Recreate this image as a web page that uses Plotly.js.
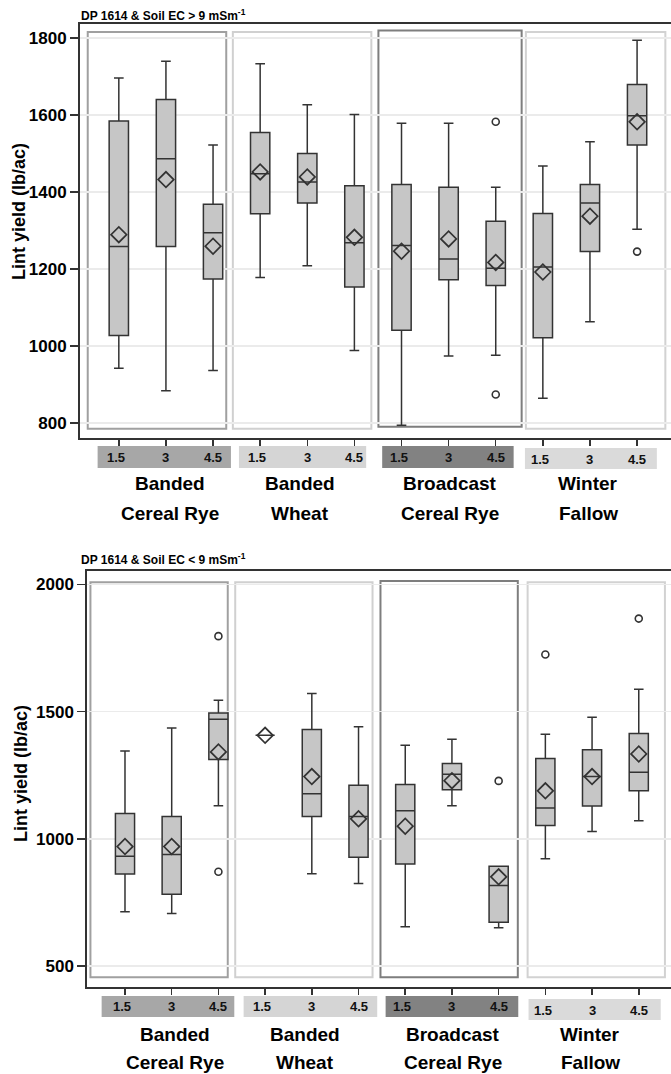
<!DOCTYPE html>
<html><head><meta charset="utf-8">
<script src="https://cdn.plot.ly/plotly-3.0.1.min.js"></script>
<style>html,body{margin:0;padding:0;background:#fff}#chart{width:671px;height:1074px}</style>
</head><body><div id="chart"></div>
<script>
// ---- data ----
const groupLine1 = ["Banded", "Banded", "Broadcast", "Winter"];
const groupLine2 = ["Cereal Rye", "Wheat", "Cereal Rye", "Fallow"];
const rates = ["1.5", "3", "4.5"];
const categories = [];
groupLine1.forEach((g, i) => rates.forEach(r => categories.push(g + " " + groupLine2[i] + " " + r)));

const hiTitle = "DP 1614 &amp; Soil EC &gt; 9 mSm<sup>-1</sup>";
const hiLower  = [942, 884, 936, 1178, 1208, 988, 794, 974, 976, 864, 1063, 1303];
const hiQ1     = [1027, 1258, 1174, 1343, 1371, 1153, 1041, 1172, 1157, 1021, 1245, 1522];
const hiMedian = [1258, 1486, 1294, 1447, 1426, 1268, 1261, 1226, 1202, 1205, 1371, 1598];
const hiQ3     = [1584, 1640, 1368, 1554, 1500, 1416, 1419, 1412, 1324, 1344, 1419, 1679];
const hiUpper  = [1696, 1739, 1522, 1733, 1626, 1601, 1578, 1578, 1412, 1467, 1530, 1794];
const hiMean   = [1289, 1432, 1259, 1452, 1439, 1282, 1246, 1278, 1217, 1192, 1337, 1582];
const hiOutlierX = ["Broadcast Cereal Rye 4.5", "Broadcast Cereal Rye 4.5", "Winter Fallow 4.5"];
const hiOutlierY = [1582, 874, 1245];
const hiTicks = [800, 1000, 1200, 1400, 1600, 1800];

const loTitle = "DP 1614 &amp; Soil EC &lt; 9 mSm<sup>-1</sup>";
const loLower  = [714, 707, 1130, 1407, 863, 825, 655, 1130, 651, 922, 1029, 1071];
const loQ1     = [862, 783, 1312, 1407, 1088, 928, 901, 1193, 672, 1053, 1129, 1189];
const loMedian = [932, 939, 1470, 1407, 1178, 1088, 1111, 1254, 817, 1122, 1245, 1262];
const loQ3     = [1100, 1088, 1495, 1407, 1430, 1211, 1214, 1296, 893, 1316, 1350, 1414];
const loUpper  = [1346, 1436, 1545, 1407, 1572, 1441, 1368, 1392, 893, 1411, 1478, 1588];
const loMean   = [970, 970, 1342, 1407, 1245, 1079, 1050, 1229, 851, 1189, 1245, 1334];
const loOutlierX = ["Banded Cereal Rye 4.5", "Banded Cereal Rye 4.5", "Broadcast Cereal Rye 4.5", "Winter Fallow 1.5", "Winter Fallow 4.5"];
const loOutlierY = [1797, 871, 1228, 1725, 1866];
const loTicks = [500, 1000, 1500, 2000];

const yTitle = "Lint yield (lb/ac)";

// ---- styling ----
const FONT = "Liberation Sans, Arial, Helvetica, sans-serif";
const W = 671, H = 1074, MT = 24, MB = 87, ML = 80, MR = 0;
const PH = H - MT - MB, PW = W - ML - MR;
const py = p => (H - MB - p) / PH;
const px = p => (p - ML) / PW;
const DARK = "#333333";
const frameColors = ["#a0a0a0", "#d0d0d0", "#7e7e7e", "#d2d2d2"];
const barColors = ["#a7a7a7", "#d5d5d5", "#828282", "#dadada"];

function boxTrace(xa, ya, q1, med, q3, lo, up) {
  return {type: "box", xaxis: xa, yaxis: ya, orientation: "v", x: categories,
    q1: q1, median: med, q3: q3, lowerfence: lo, upperfence: up,
    width: 0.41, whiskerwidth: 0.5, boxpoints: false,
    fillcolor: "#c6c6c6", line: {color: DARK, width: 1.5}, hoverinfo: "skip"};
}
function meanTrace(xa, ya, m) {
  return {type: "scatter", mode: "markers", xaxis: xa, yaxis: ya, x: categories, y: m,
    marker: {symbol: "diamond-open", size: 12, color: DARK, line: {width: 1.7, color: DARK}}, hoverinfo: "skip"};
}
function outTrace(xa, ya, xs, ys) {
  return {type: "scatter", mode: "markers", xaxis: xa, yaxis: ya, x: xs, y: ys,
    marker: {symbol: "circle-open", size: 7, color: DARK, line: {width: 1.6, color: DARK}}, hoverinfo: "skip"};
}

const data = [
  boxTrace("x", "y", hiQ1, hiMedian, hiQ3, hiLower, hiUpper),
  meanTrace("x", "y", hiMean),
  outTrace("x", "y", hiOutlierX, hiOutlierY),
  boxTrace("x2", "y2", loQ1, loMedian, loQ3, loLower, loUpper),
  meanTrace("x2", "y2", loMean),
  outTrace("x2", "y2", loOutlierX, loOutlierY)
];

const shapes = [], annotations = [];
function panel(xr, yr, frames, frameY, frameY3, bars, barY, barY4, rateY, rateY4, nameY1, nameY2) {
  frames.forEach((f, g) => {
    const fy = g === 2 ? frameY3 : frameY;
    shapes.push({type: "rect", xref: xr, yref: yr, x0: f[0], x1: f[1], y0: fy[0], y1: fy[1],
      line: {color: frameColors[g], width: 2}, layer: "below"});
  });
  bars.forEach((b, g) => {
    const by = g === 3 ? barY4 : barY;
    shapes.push({type: "rect", xref: xr, yref: "paper", x0: b[0], x1: b[1], y0: py(by[1]), y1: py(by[0]),
      fillcolor: barColors[g], line: {width: 0}});
    rates.forEach((r, k) => {
      annotations.push({xref: xr, yref: "paper", x: g * 3 + k - (k === 0 ? 0.06 : 0), y: py(g === 3 ? rateY4 : rateY),
        text: r, showarrow: false, xanchor: "center", yanchor: "middle",
        font: {family: FONT, size: 13, weight: 700, color: "#111"}});
    });
  });
  const nameX = [1.08, 3.85, 7.03, 9.96];
  groupLine1.forEach((n, g) => {
    annotations.push({xref: xr, yref: "paper", x: nameX[g], y: py(nameY1), text: n, showarrow: false,
      xanchor: "center", yanchor: "middle", font: {family: FONT, size: 19, weight: 700, color: "#000"}});
    annotations.push({xref: xr, yref: "paper", x: nameX[g], y: py(nameY2), text: groupLine2[g], showarrow: false,
      xanchor: "center", yanchor: "middle", font: {family: FONT, size: 19, weight: 700, color: "#000"}});
  });
}

panel("x", "y",
  [[-0.66, 2.28], [2.42, 5.36], [5.51, 8.55], [8.64, 11.6]], [785, 1815], [790, 1819],
  [[-0.45, 2.38], [2.55, 5.25], [5.59, 8.38], [8.62, 11.42]], [446, 468], [448, 469],
  457, 459, 483, 513);
panel("x2", "y2",
  [[-0.74, 2.2], [2.36, 5.3], [5.47, 8.41], [8.62, 11.56]], [456, 2009], [456, 2014],
  [[-0.5, 2.34], [2.54, 5.4], [5.58, 8.42], [8.64, 11.47]], [996, 1017], [999, 1020],
  1007, 1010, 1034, 1062);

annotations.push({xref: "paper", yref: "paper", x: px(79), y: py(15), text: hiTitle, showarrow: false,
  xanchor: "left", yanchor: "middle", font: {family: FONT, size: 12, weight: 700, color: "#000"}});
annotations.push({xref: "paper", yref: "paper", x: px(79), y: py(559), text: loTitle, showarrow: false,
  xanchor: "left", yanchor: "middle", font: {family: FONT, size: 12, weight: 700, color: "#000"}});
annotations.push({xref: "paper", yref: "paper", x: px(19), y: py(212), text: yTitle, textangle: -90, showarrow: false,
  xanchor: "center", yanchor: "middle", font: {family: FONT, size: 18, weight: 700, color: "#000"}});
annotations.push({xref: "paper", yref: "paper", x: px(21), y: py(774), text: yTitle, textangle: -90, showarrow: false,
  xanchor: "center", yanchor: "middle", font: {family: FONT, size: 18, weight: 700, color: "#000"}});

const xCommon = {type: "category", categoryorder: "array", categoryarray: categories,
  showticklabels: false, ticks: "outside", ticklen: 6, tickwidth: 1.5, tickcolor: DARK,
  showline: true, linecolor: DARK, linewidth: 2, mirror: true, showgrid: false, zeroline: false, fixedrange: true};
const yCommon = {tickmode: "array", ticks: "outside", ticklen: 8, tickwidth: 1.5, tickcolor: DARK,
  showline: true, linecolor: DARK, linewidth: 2, showgrid: true, gridcolor: "#ebebeb", gridwidth: 1.5,
  zeroline: false, tickfont: {family: FONT, size: 17, weight: 700, color: "#000"}, fixedrange: true};

const layout = {
  width: W, height: H, margin: {l: ML, r: MR, t: MT, b: MB},
  paper_bgcolor: "#fff", plot_bgcolor: "#fff", showlegend: false,
  font: {family: FONT},
  xaxis: Object.assign({}, xCommon, {domain: [0, 1], anchor: "y", range: [-0.824, 11.72]}),
  yaxis: Object.assign({}, yCommon, {domain: [py(438), 1], anchor: "x", range: [761, 1836], tickvals: hiTicks}),
  xaxis2: Object.assign({}, xCommon, {domain: [px(87.3), 1], anchor: "y2", range: [-0.807, 11.69]}),
  yaxis2: Object.assign({}, yCommon, {domain: [0, py(571)], anchor: "x2", range: [418, 2053], tickvals: loTicks}),
  shapes: shapes, annotations: annotations
};

Plotly.newPlot("chart", data, layout, {displayModeBar: false, staticPlot: true});
</script>
</body></html>
